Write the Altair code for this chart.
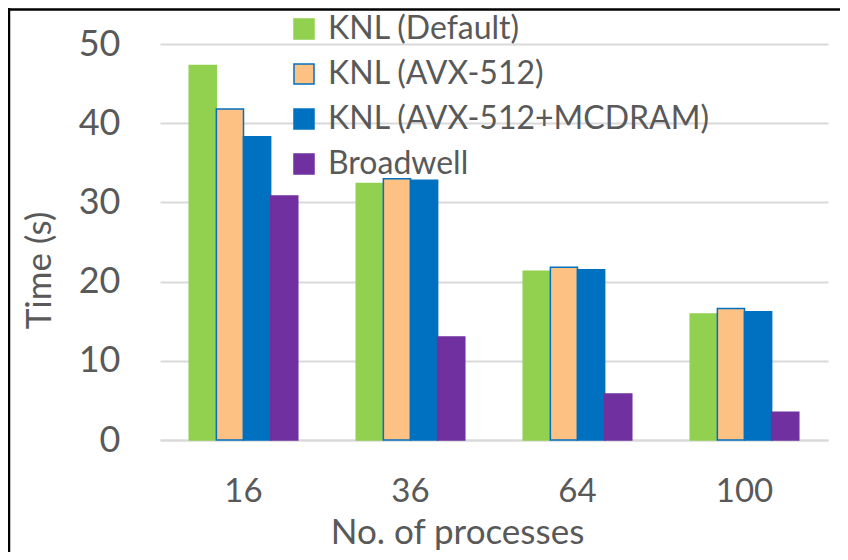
import altair as alt
import pandas as pd

processes = ["16", "36", "64", "100"]
series = ["KNL (Default)", "KNL (AVX-512)", "KNL (AVX-512+MCDRAM)", "Broadwell"]
knl_default = [47.3, 32.4, 21.3, 15.9]
knl_avx = [41.8, 33.0, 21.8, 16.6]
knl_avx_mcdram = [38.3, 32.8, 21.5, 16.2]
broadwell = [30.8, 13.0, 5.8, 3.5]

fill_colors = ["#92D050", "#FDC184", "#0070C0", "#7030A0"]
stroke_colors = ["#92D050", "#0070C0", "#0070C0", "#7030A0"]

rows = []
for name, vals in zip(series, [knl_default, knl_avx, knl_avx_mcdram, broadwell]):
    for p, v in zip(processes, vals):
        rows.append({"process": p, "series": name, "time": v})
df = pd.DataFrame(rows)

FONT = "Lato"
TXT = "#595959"
GRID = "#D9D9D9"
W, H = 668, 396

legend_kw = dict(
    title=None,
    orient="none",
    legendX=128,
    legendY=-31,
    symbolType="square",
    symbolSize=400,
    symbolStrokeWidth=1.5,
    labelFont=FONT,
    labelFontSize=32,
    labelColor=TXT,
    labelOffset=8,
    rowPadding=13,
    padding=0,
    labelLimit=600,
)

bars = alt.Chart(df).mark_bar(strokeWidth=1.5).encode(
    x=alt.X(
        "process:N",
        sort=processes,
        scale=alt.Scale(paddingInner=0.35, paddingOuter=0.175),
        axis=alt.Axis(
            title="No. of processes",
            labelAngle=0,
            labelFont=FONT,
            labelFontSize=33,
            labelColor=TXT,
            labelBaseline="alphabetic",
            labelPadding=61,
            ticks=False,
            tickSize=0,
            domain=True,
            domainColor=GRID,
            domainWidth=2,
            grid=False,
            titleFont=FONT,
            titleFontSize=35,
            titleFontWeight="normal",
            titleColor=TXT,
            titleX=297,
            titleY=103,
            titleAlign="center",
            titleBaseline="alphabetic",
        ),
    ),
    xOffset=alt.XOffset("series:N", sort=series, scale=alt.Scale(paddingInner=0, paddingOuter=0)),
    y=alt.Y(
        "time:Q",
        scale=alt.Scale(domain=[0, 50], nice=False),
        axis=alt.Axis(
            title="Time (s)",
            values=[0, 10, 20, 30, 40, 50],
            labelFont=FONT,
            labelFontSize=36,
            labelColor=TXT,
            labelPadding=40,
            labelBaseline="middle",
            ticks=False,
            tickSize=0,
            domain=False,
            grid=True,
            gridColor=GRID,
            gridWidth=2,
            titleFont=FONT,
            titleFontSize=35,
            titleFontWeight="normal",
            titleColor=TXT,
            titleAngle=-90,
            titleX=-110,
            titleY=226,
            titleAlign="center",
            titleBaseline="alphabetic",
        ),
    ),
    fill=alt.Fill(
        "series:N",
        sort=series,
        scale=alt.Scale(domain=series, range=fill_colors),
        legend=alt.Legend(**legend_kw),
    ),
    stroke=alt.Stroke(
        "series:N",
        sort=series,
        scale=alt.Scale(domain=series, range=stroke_colors),
        legend=alt.Legend(**legend_kw),
    ),
)

frame_data = pd.DataFrame({"k": [0]})
top_rule = alt.Chart(frame_data).mark_rule(color="#000000", strokeWidth=2.5).encode(
    x=alt.value(-152),
    x2=alt.value(W + 20),
    y=alt.value(-34.5),
)
left_rule = alt.Chart(frame_data).mark_rule(color="#000000", strokeWidth=2.5).encode(
    x=alt.value(-151),
    y=alt.value(-36),
    y2=alt.value(H + 120),
)

chart = alt.layer(bars, top_rule, left_rule).properties(
    width=W,
    height=H,
    autosize=alt.AutoSizeParams(type="none"),
    padding={"left": 152, "top": 36, "right": 12, "bottom": 112},
    background="white",
).configure_view(stroke=None)

chart.save("out.html", embed_options={"renderer": "svg", "actions": False})
